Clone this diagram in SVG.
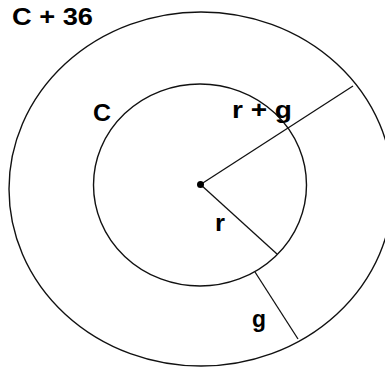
<svg xmlns="http://www.w3.org/2000/svg" width="385" height="370" viewBox="0 0 385 370">
<style>
.c{fill:none;stroke:#111;stroke-width:1.4}
.l{stroke:#111;stroke-width:1.3}
.t{font-family:"Liberation Sans",Arial,sans-serif;font-weight:bold;font-size:24px;fill:#000}
</style>
<rect width="385" height="370" fill="#fff"/>
<g id="outer"><ellipse class="c" cx="201" cy="189" rx="192" ry="177"/></g>
<g id="inner"><ellipse class="c" cx="200" cy="185" rx="106.5" ry="101"/></g>
<g id="connectors">
<line class="l" x1="200.5" y1="184.5" x2="353" y2="86"/>
<line class="l" x1="200.5" y1="184.5" x2="277" y2="254"/>
<line class="l" x1="255" y1="272" x2="298" y2="339"/>
</g>
<g id="center"><circle cx="200.5" cy="184.5" r="3.5" fill="#000"/></g>
<g id="labels">
<text class="t" x="12" y="25" textLength="81" lengthAdjust="spacingAndGlyphs">C + 36</text>
<text class="t" x="93" y="121" textLength="18" lengthAdjust="spacingAndGlyphs">C</text>
<text class="t" x="232" y="118" textLength="60" lengthAdjust="spacingAndGlyphs">r + g</text>
<text class="t" x="215" y="231" textLength="10" lengthAdjust="spacingAndGlyphs">r</text>
<text class="t" x="252" y="327" textLength="14" lengthAdjust="spacingAndGlyphs">g</text>
</g>
</svg>
